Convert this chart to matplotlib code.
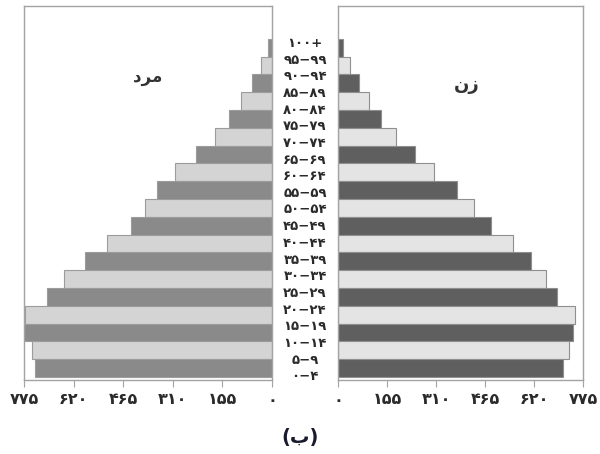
import numpy as np
import matplotlib
matplotlib.use('Agg')
import matplotlib.pyplot as plt

plt.rcParams['font.family'] = ['DejaVu Sans']

# bar values, listed from the top bar (oldest) down to the bottom bar
male = [12, 35, 63, 98, 133, 178, 238, 303, 360, 397, 441, 517, 584, 650, 702, 772, 775, 751, 741]
female = [15, 38, 67, 98, 136, 184, 244, 304, 376, 430, 484, 553, 611, 658, 694, 750, 743, 732, 713]

# age group labels, top to bottom
age_labels = ['۱۰۰+', '۹۵−۹۹', '۹۰−۹۴', '۸۵−۸۹', '۸۰−۸۴', '۷۵−۷۹', '۷۰−۷۴',
              '۶۵−۶۹', '۶۰−۶۴', '۵۵−۵۹', '۵۰−۵۴', '۴۵−۴۹', '۴۰−۴۴', '۳۵−۳۹',
              '۳۰−۳۴', '۲۵−۲۹', '۲۰−۲۴', '۱۵−۱۹', '۱۰−۱۴', '۵−۹', '۰−۴']

ticks = [0, 155, 310, 465, 620, 775]
tick_labels = ['۰', '۱۵۵', '۳۱۰', '۴۶۵', '۶۲۰', '۷۷۵']

# titles in visual (shaped, left-to-right) order: "مرد" and "زن"
male_title = 'ﺩﺮﻣ'
female_title = 'ﻥﺯ'
caption = '(ب)'

n = len(male)
y = np.arange(n)[::-1]  # top bar gets the highest position

fig = plt.figure(figsize=(6, 4.54), dpi=100)
W, H = 600.0, 454.0
bot = 1 - 380 / H
hgt = 374 / H
ax_l = fig.add_axes([24 / W, bot, 248 / W, hgt])
ax_r = fig.add_axes([338 / W, bot, 245 / W, hgt])
ax_c = fig.add_axes([272 / W, bot, 66 / W, hgt])

frame_col = '#a3a3a3'
ylo, yhi = -0.67, 20.34

def style(ax, inverted):
    ax.set_ylim(ylo, yhi)
    if inverted:
        ax.set_xlim(775, 0)
    else:
        ax.set_xlim(0, 775)
    ax.set_yticks([])
    ax.set_xticks(ticks)
    ax.set_xticklabels(tick_labels, fontsize=11.5, fontweight='bold', color='#2a2a2a')
    ax.tick_params(axis='x', direction='out', length=5, width=0.8, color=frame_col, pad=4)
    for s in ax.spines.values():
        s.set_color(frame_col)
        s.set_linewidth(1.0)

cols_l = ['#8a8a8a' if i % 2 == 0 else '#d4d4d4' for i in range(n)]
cols_r = ['#5f5f5f' if i % 2 == 0 else '#e4e4e4' for i in range(n)]

ax_l.barh(y, male, height=1.0, color=cols_l, edgecolor='#9c9c9c', linewidth=0.8)
ax_r.barh(y, female, height=1.0, color=cols_r, edgecolor='#8f8f8f', linewidth=0.8)
style(ax_l, True)
style(ax_r, False)

ax_l.text(0.5, 0.81, male_title, transform=ax_l.transAxes, ha='center', va='center',
          fontsize=12, fontweight='bold', color='#333333')
ax_r.text(0.525, 0.79, female_title, transform=ax_r.transAxes, ha='center', va='center',
          fontsize=13, fontweight='bold', color='#333333')

# age labels in the middle column
ax_c.axis('off')
ax_c.set_xlim(0, 1)
ax_c.set_ylim(-0.2, 22.24)
for i, lab in enumerate(age_labels):
    ax_c.text(0.5, len(age_labels) - 1 - i, lab, ha='center', va='center',
              fontsize=9.5, fontweight='bold', color='#2a2a2a')

fig.text(0.5, 1 - 437 / H, caption, ha='center', va='center', fontsize=14,
         fontweight='bold', color='#1a1a2e')

fig.savefig('out.png', dpi=100)
